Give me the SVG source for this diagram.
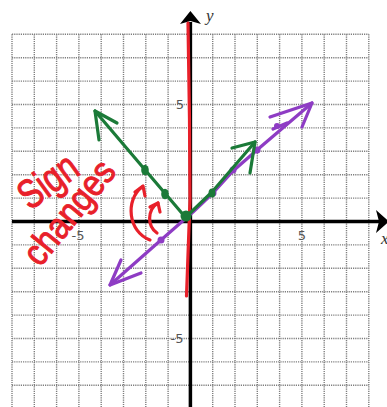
<svg xmlns="http://www.w3.org/2000/svg" width="387" height="407" viewBox="0 0 387 407">
<style>
.grid line{stroke:#7e7e7e;stroke-width:1.4;stroke-dasharray:1.2 1}
.tick{font-family:"DejaVu Sans",sans-serif;font-size:13px;fill:#555}
.pur{stroke:#8e3cc4;fill:none;stroke-width:3.2;stroke-linecap:round;stroke-linejoin:round}
.grn{stroke:#1b7a38;fill:none;stroke-width:3.2;stroke-linecap:round;stroke-linejoin:round}
.red{stroke:#e8202a;fill:none;stroke-width:3.2;stroke-linecap:round;stroke-linejoin:round}
.hand{font-family:"Liberation Sans",sans-serif;fill:#e8202a;stroke:#e8202a;stroke-width:1}
</style>
<rect width="387" height="407" fill="#fff"/>
<g class="grid" id="grid">
<line x1="12" y1="34.3" x2="12" y2="407"/>
<line x1="34.3" y1="34.3" x2="34.3" y2="407"/>
<line x1="56.6" y1="34.3" x2="56.6" y2="407"/>
<line x1="78.9" y1="34.3" x2="78.9" y2="407"/>
<line x1="101.2" y1="34.3" x2="101.2" y2="407"/>
<line x1="123.5" y1="34.3" x2="123.5" y2="407"/>
<line x1="145.8" y1="34.3" x2="145.8" y2="407"/>
<line x1="168.1" y1="34.3" x2="168.1" y2="407"/>
<line x1="212.7" y1="34.3" x2="212.7" y2="407"/>
<line x1="235" y1="34.3" x2="235" y2="407"/>
<line x1="257.3" y1="34.3" x2="257.3" y2="407"/>
<line x1="279.6" y1="34.3" x2="279.6" y2="407"/>
<line x1="301.9" y1="34.3" x2="301.9" y2="407"/>
<line x1="324.2" y1="34.3" x2="324.2" y2="407"/>
<line x1="346.5" y1="34.3" x2="346.5" y2="407"/>
<line x1="368.8" y1="34.3" x2="368.8" y2="407"/>
<line x1="12" y1="34.3" x2="368.8" y2="34.3"/>
<line x1="12" y1="57.7" x2="368.8" y2="57.7"/>
<line x1="12" y1="81.1" x2="368.8" y2="81.1"/>
<line x1="12" y1="104.5" x2="368.8" y2="104.5"/>
<line x1="12" y1="127.9" x2="368.8" y2="127.9"/>
<line x1="12" y1="151.3" x2="368.8" y2="151.3"/>
<line x1="12" y1="174.7" x2="368.8" y2="174.7"/>
<line x1="12" y1="198.1" x2="368.8" y2="198.1"/>
<line x1="12" y1="244.9" x2="368.8" y2="244.9"/>
<line x1="12" y1="268.3" x2="368.8" y2="268.3"/>
<line x1="12" y1="291.7" x2="368.8" y2="291.7"/>
<line x1="12" y1="315.1" x2="368.8" y2="315.1"/>
<line x1="12" y1="338.5" x2="368.8" y2="338.5"/>
<line x1="12" y1="361.9" x2="368.8" y2="361.9"/>
<line x1="12" y1="385.3" x2="368.8" y2="385.3"/>
</g>
<g id="axes">
<line x1="12" y1="221.5" x2="380" y2="221.5" stroke="#000" stroke-width="3.5"/>
<polygon points="376,210 389,221.5 376,233 379,221.5" fill="#000"/>
<line x1="190.4" y1="22" x2="190.4" y2="407" stroke="#000" stroke-width="3.5"/>
<polygon points="180,24 190.4,11 201,24 190.4,21" fill="#000"/>
<text x="206" y="21" font-family="Liberation Serif,serif" font-style="italic" font-size="17" fill="#333">y</text>
<text x="381" y="244" font-family="Liberation Serif,serif" font-style="italic" font-size="17" fill="#333">x</text>
</g>
<g id="tick-labels">
<text class="tick" x="302" y="240" text-anchor="middle">5</text>
<text class="tick" x="78" y="240" text-anchor="middle">-5</text>
<text class="tick" x="180" y="109" text-anchor="middle">5</text>
<text class="tick" x="177" y="343" text-anchor="middle">-5</text>
</g>
<g id="red-line">
<path class="red" d="M188,23 L189.5,120 L190,200 L186.5,296" stroke-width="3.6"/>
</g>
<g id="purple-line">
<polyline class="pur" points="110,285 161,240 193,212 213,193 233,171 257,150 312,103"/>
<polyline class="pur" points="121,260 110,285 141,273"/>
<polyline class="pur" points="270,117 312,103 302,127"/>
<line class="pur" x1="273" y1="129" x2="287" y2="123"/>
<circle cx="161" cy="240" r="3.5" fill="#8e3cc4"/>
<circle cx="213" cy="193" r="3.5" fill="#8e3cc4"/>
<circle cx="233" cy="170" r="3.5" fill="#8e3cc4"/>
<circle cx="257" cy="150" r="3.5" fill="#8e3cc4"/>
<circle cx="277" cy="126" r="3" fill="#8e3cc4"/>
</g>
<g id="green-line">
<polyline class="grn" points="95,111 186,218"/>
<polyline class="grn" points="117,123 95,111 99,140"/>
<polyline class="grn" points="186,217 212,192 255,142"/>
<polyline class="grn" points="232,148 255,142 250,173"/>
<ellipse cx="145" cy="170" rx="3.8" ry="5.2" fill="#1b7a38"/>
<ellipse cx="165" cy="194" rx="3.8" ry="5.2" fill="#1b7a38"/>
<ellipse cx="212" cy="193" rx="3.5" ry="4.5" fill="#1b7a38"/>
<circle cx="186" cy="216" r="5.5" fill="#1b7a38"/>
</g>
<g id="sign-arrows">
<path class="red" d="M150,240 C128,232 125,200 142,187"/>
<polyline class="red" points="135,192 143,186 145,196"/>
<path class="red" d="M157,233 C147,226 147,210 158,203"/>
<polyline class="red" points="150,207 158,203 160,212"/>
</g>
<g id="annotation">
<text class="hand" font-size="41" transform="translate(30,211) rotate(-36) scale(0.78,1)">Sign</text>
<text class="hand" font-size="37" transform="translate(40,268) rotate(-51) scale(0.88,1)">changes</text>
</g>
</svg>
